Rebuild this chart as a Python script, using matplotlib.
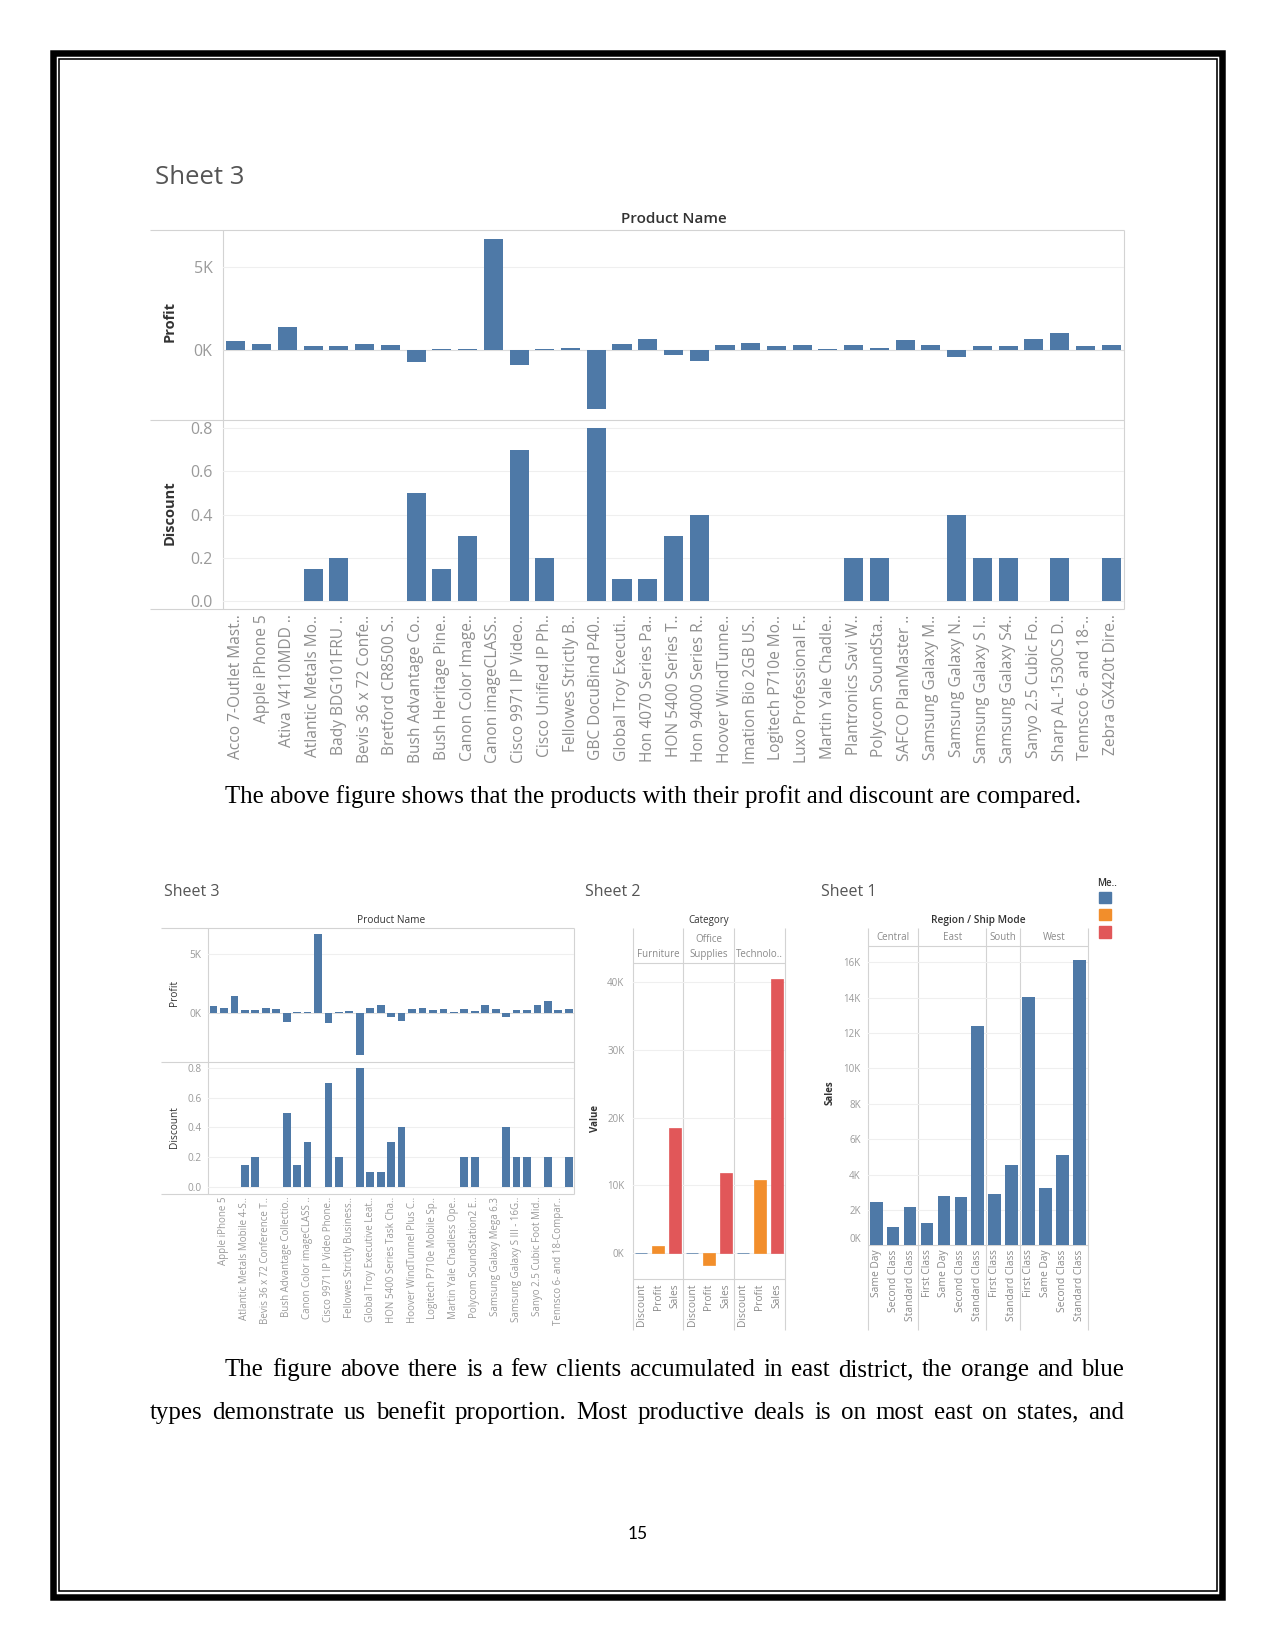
import matplotlib
matplotlib.use("Agg")
import matplotlib.pyplot as plt
from matplotlib.patches import Rectangle

W, H, DPI = 1275, 1650, 100

# ---------------- data ----------------
products = [
    "Acco 7-Outlet Mast..", "Apple iPhone 5", "Ativa V4110MDD ..", "Atlantic Metals Mo..",
    "Bady BDG101FRU ..", "Bevis 36 x 72 Confe..", "Bretford CR8500 S..", "Bush Advantage Co..",
    "Bush Heritage Pine..", "Canon Color Image..", "Canon imageCLASS..", "Cisco 9971 IP Video..",
    "Cisco Unified IP Ph..", "Fellowes Strictly B..", "GBC DocuBind P40..", "Global Troy Executi..",
    "Hon 4070 Series Pa..", "HON 5400 Series T..", "Hon 94000 Series R..", "Hoover WindTunne..",
    "Imation Bio 2GB US..", "Logitech P710e Mo..", "Luxo Professional F..", "Martin Yale Chadle..",
    "Plantronics Savi W..", "Polycom SoundSta..", "SAFCO PlanMaster ..", "Samsung Galaxy M..",
    "Samsung Galaxy N..", "Samsung Galaxy S I..", "Samsung Galaxy S4..", "Sanyo 2.5 Cubic Fo..",
    "Sharp AL-1530CS D..", "Tennsco 6- and 18-..", "Zebra GX420t Dire..",
]
profit = [560, 400, 1420, 240, 240, 400, 340, -730, 80, 80, 6700, -860, 80, 160, -3560,
          400, 660, -300, -650, 340, 460, 240, 340, 80, 340, 160, 650, 340, -380, 240,
          240, 700, 1030, 240, 340]
discount = [0, 0, 0, 0.15, 0.2, 0, 0, 0.5, 0.15, 0.3, 0, 0.7, 0.2, 0, 0.8, 0.1, 0.1, 0.3,
            0.4, 0, 0, 0, 0, 0, 0.2, 0.2, 0, 0, 0.4, 0.2, 0.2, 0, 0.2, 0, 0.2]
# labels shown on the small copy of Sheet 3 (every second product)
products_small = [
    "Apple iPhone 5", "Atlantic Metals Mobile 4-S..", "Bevis 36 x 72 Conference T..",
    "Bush Advantage Collectio..", "Canon Color imageCLASS ..", "Cisco 9971 IP Video Phone..",
    "Fellowes Strictly Business..", "Global Troy Executive Leat..", "HON 5400 Series Task Cha..",
    "Hoover WindTunnel Plus C..", "Logitech P710e Mobile Sp..", "Martin Yale Chadless Ope..",
    "Polycom SoundStation2 E..", "Samsung Galaxy Mega 6.3", "Samsung Galaxy S III - 16G..",
    "Sanyo 2.5 Cubic Foot Mid..", "Tennsco 6- and 18-Compar..",
]

categories = ["Furniture", "Office Supplies", "Technolo.."]
measures = ["Discount", "Profit", "Sales"]
cat_discount = [2.0, 1.9, 1.6]
cat_profit = [1070, -1700, 10800]
cat_sales = [18400, 11800, 40400]

regions = ["Central", "East", "South", "West"]
ship_modes = [
    ["Same Day", "Second Class", "Standard Class"],
    ["First Class", "Same Day", "Second Class", "Standard Class"],
    ["First Class", "Standard Class"],
    ["First Class", "Same Day", "Second Class", "Standard Class"],
]
region_sales = [
    [2430, 1020, 2150],
    [1260, 2770, 2740, 12400],
    [2890, 4530],
    [14040, 3230, 5090, 16130],
]

caption1 = "The above figure shows that the products with their profit and discount are compared."
para_lines = [
    "The figure above there is a few clients accumulated in east district, the orange and blue",
    "types demonstrate us benefit proportion. Most productive deals is on most east on states, and",
]
page_number = "15"

# ---------------- style ----------------
BLUE, ORANGE, RED = "#4e79a7", "#f28e2b", "#e15759"
TAB = ["Open Sans", "DejaVu Sans"]
SERIF = ["Liberation Serif", "DejaVu Serif"]
LINE = "#d3d3d3"
GRID = "#efefef"
TICK = "#9a9a9a"
DARK = "#333333"

fig = plt.figure(figsize=(W / DPI, H / DPI), dpi=DPI)
fig.patch.set_facecolor("white")
ov = fig.add_axes([0, 0, 1, 1], zorder=0)
ov.set_xlim(0, W)
ov.set_ylim(H, 0)
ov.axis("off")


def px_axes(x0, y0, x1, y1):
    ax = fig.add_axes([x0 / W, 1 - y1 / H, (x1 - x0) / W, (y1 - y0) / H], zorder=2)
    ax.patch.set_alpha(0)
    for s in ax.spines.values():
        s.set_visible(False)
    ax.set_axisbelow(True)
    return ax


def hline(y, x0, x1, c=LINE, lw=0.8):
    ov.plot([x0, x1], [y, y], color=c, lw=lw, solid_capstyle="butt")


def vline(x, y0, y1, c=LINE, lw=0.8):
    ov.plot([x, x], [y0, y1], color=c, lw=lw, solid_capstyle="butt")


def style_y(ax, ticks, labels, size, pad_px):
    ax.set_yticks(ticks)
    ax.set_yticklabels(labels, fontsize=size, color=TICK, family=TAB)
    ax.tick_params(axis="y", length=0, pad=pad_px * 0.72)
    ax.yaxis.grid(True, color=GRID, lw=0.8)


# ---------------- page border ----------------
ov.add_patch(Rectangle((53, 53), 1222 - 53, 1596.5 - 53, fill=False, ec="black", lw=6.5 * 0.72))
ov.add_patch(Rectangle((58.5, 58.5), 1216.7 - 58.5, 1590.7 - 58.5, fill=False, ec="black", lw=1.6 * 0.72))

# ---------------- top Sheet 3 ----------------
ov.text(155, 177, "Sheet 3", fontsize=18.5, color="#555555", family=TAB, va="center", ha="left")
X0, X1 = 223, 1124
ov.text((X0 + X1) / 2, 219, "Product Name", fontsize=11, color=DARK, family=TAB,
        ha="center", va="center", weight="semibold")
for y in (230, 420, 609):
    hline(y, 150, X1)
vline(X0, 230, 609)
vline(X1, 230, 609)

xs = list(range(len(products)))
axp = px_axes(X0, 230, X1, 419.5)
axp.bar(xs, profit, width=0.74, color=BLUE, zorder=3)
axp.axhline(0, color="#dcdcdc", lw=0.8, zorder=2)
axp.set_xlim(-0.5, len(products) - 0.5)
axp.set_ylim(-4172, 7255)
style_y(axp, [0, 5000], ["0K", "5K"], 11.5, 10.5)
axp.set_xticks([])
ov.text(170, 322, "Profit", rotation=90, fontsize=10.5, color=DARK, family=TAB,
        weight="bold", ha="center", va="center")

axd = px_axes(X0, 420.5, X1, 609)
axd.bar(xs, discount, width=0.74, color=BLUE, zorder=3)
axd.set_xlim(-0.5, len(products) - 0.5)
axd.set_ylim(-0.037, 0.836)
style_y(axd, [0, 0.2, 0.4, 0.6, 0.8], ["0.0", "0.2", "0.4", "0.6", "0.8"], 11.5, 10.5)
axd.set_xticks(xs)
axd.set_xticklabels(products, rotation=90, fontsize=11.2, color="#8e8e8e", family=TAB,
                    ha="center", va="top")
axd.tick_params(axis="x", length=0, pad=4)
ov.text(170, 513, "Discount", rotation=90, fontsize=10.5, color=DARK, family=TAB,
        weight="bold", ha="center", va="center")

# ---------------- captions ----------------
renderer = fig.canvas.get_renderer()


def text_width(s, fs):
    t = ov.text(0, 0, s, fontsize=fs, family=SERIF)
    w = t.get_window_extent(renderer).width
    t.remove()
    return w


fs_serif = 18 * 856 / text_width(caption1, 18)
ov.text(225, 803, caption1, fontsize=fs_serif, family=SERIF, color="black", ha="left", va="baseline")


def justify(line, x0, x1, y, fs):
    words = line.split()
    widths = [text_width(w, fs) for w in words]
    gap = (x1 - x0 - sum(widths)) / (len(words) - 1)
    x = x0
    for w, wd in zip(words, widths):
        ov.text(x, y, w, fontsize=fs, family=SERIF, color="black", ha="left", va="baseline")
        x += wd + gap


justify(para_lines[0], 225, 1124, 1376, fs_serif)
justify(para_lines[1], 150, 1124, 1419, fs_serif)
ov.text(637.5, 1539, page_number, fontsize=12.5, family=["Lato", "DejaVu Sans"], color="black",
        ha="center", va="baseline")

# ---------------- bottom-left Sheet 3 ----------------
SX0, SX1 = 208.3, 574
ov.text(164, 892, "Sheet 3", fontsize=11.5, color="#555555", family=TAB, va="center", ha="left")
ov.text((SX0 + SX1) / 2, 920.5, "Product Name", fontsize=7.3, color=DARK, family=TAB,
        ha="center", va="center")
for y in (928.3, 1061.5, 1194):
    hline(y, 161, SX1)
vline(SX0, 928.3, 1194)
vline(SX1, 928.3, 1194)

bp = px_axes(SX0, 928.3, SX1, 1061)
bp.bar(xs, profit, width=0.74, color=BLUE, zorder=3)
bp.axhline(0, color="#dcdcdc", lw=0.6, zorder=2)
bp.set_xlim(-0.5, len(products) - 0.5)
bp.set_ylim(-4085, 7203)
style_y(bp, [0, 5000], ["0K", "5K"], 7.3, 6.6)
bp.set_xticks([])
ov.text(174, 993, "Profit", rotation=90, fontsize=7.3, color=DARK, family=TAB, ha="center", va="center")

bd = px_axes(SX0, 1062, SX1, 1194)
bd.bar(xs, discount, width=0.74, color=BLUE, zorder=3)
bd.set_xlim(-0.5, len(products) - 0.5)
bd.set_ylim(-0.045, 0.838)
style_y(bd, [0, 0.2, 0.4, 0.6, 0.8], ["0.0", "0.2", "0.4", "0.6", "0.8"], 7.3, 6.6)
bd.set_xticks(xs[1::2])
bd.set_xticklabels(products_small, rotation=90, fontsize=7, color="#9a9a9a", family=TAB,
                   ha="center", va="top")
bd.tick_params(axis="x", length=0, pad=2)
ov.text(174, 1127, "Discount", rotation=90, fontsize=7.3, color=DARK, family=TAB, ha="center", va="center")

# ---------------- Sheet 2 ----------------
ov.text(585, 892, "Sheet 2", fontsize=11.5, color="#555555", family=TAB, va="center", ha="left")
cx = [632.7, 683.3, 734.3, 785.3]
ov.text((cx[0] + cx[-1]) / 2, 920.7, "Category", fontsize=7, color=DARK, family=TAB,
        ha="center", va="center")
for x in cx:
    vline(x, 928.3, 1330)
hline(962.7, cx[0], cx[-1])
hline(1279.3, cx[0], cx[-1])
for i, c in enumerate(categories):
    lab = c if len(c) <= 10 else c.replace(" ", "\n")
    ov.text((cx[i] + cx[i + 1]) / 2, 957, lab, fontsize=7, color="#8a8a8a", family=TAB,
            ha="center", va="baseline", linespacing=1.5)

a2 = px_axes(cx[0], 962.7, cx[-1], 1279.3)
colors = [BLUE, ORANGE, RED]
xpos, labels2 = [], []
for i in range(len(categories)):
    vals = [cat_discount[i], cat_profit[i], cat_sales[i]]
    for j, m in enumerate(measures):
        x = i * 3 + j
        a2.bar(x, vals[j], width=0.72, color=colors[j], ec=colors[j], lw=0.5, zorder=3)
        xpos.append(x)
        labels2.append(m)
a2.set_xlim(-0.5, 8.5)
a2.set_ylim(-3824, 42794)
style_y(a2, [0, 10000, 20000, 30000, 40000], ["0K", "10K", "20K", "30K", "40K"], 7, 8.4)
a2.set_xticks(xpos)
a2.set_xticklabels(labels2, rotation=90, fontsize=7.4, color="#8a8a8a", family=TAB, ha="center", va="top")
a2.tick_params(axis="x", length=0, pad=3)
ov.text(595.7, 1118, "Value", rotation=90, fontsize=7, color=DARK, family=TAB, weight="bold",
        ha="center", va="center")

# ---------------- Sheet 1 ----------------
ov.text(820.7, 892, "Sheet 1", fontsize=11.5, color="#555555", family=TAB, va="center", ha="left")
rx = [867.7, 918.3, 986.3, 1020.3, 1088]
ov.text((rx[0] + rx[-1]) / 2, 920.7, "Region / Ship Mode", fontsize=7.3, color=DARK, family=TAB,
        weight="semibold", ha="center", va="center")
for x in rx:
    vline(x, 928.3, 1330)
hline(945.7, rx[0], rx[-1])
hline(1245.3, rx[0], rx[-1])
for i, r in enumerate(regions):
    ov.text((rx[i] + rx[i + 1]) / 2, 937.7, r, fontsize=7, color="#8a8a8a", family=TAB,
            ha="center", va="center")

a1 = px_axes(rx[0], 945.7, rx[-1], 1245.3)
pos = 0
xpos1, labels1 = [], []
for i in range(len(regions)):
    for m, v in zip(ship_modes[i], region_sales[i]):
        a1.bar(pos, v, width=0.75, color=BLUE, zorder=3)
        xpos1.append(pos)
        labels1.append(m)
        pos += 1
a1.set_xlim(-0.5, pos - 0.5)
a1.set_ylim(0, 16940)
style_y(a1, list(range(0, 16001, 2000)), [f"{k}K" for k in range(0, 17, 2)], 7, 7)
a1.get_yticklabels()[0].set_va("bottom")
a1.set_xticks(xpos1)
a1.set_xticklabels(labels1, rotation=90, fontsize=7.4, color="#8a8a8a", family=TAB, ha="center", va="top")
a1.tick_params(axis="x", length=0, pad=3)
ov.text(830, 1093, "Sales", rotation=90, fontsize=7, color=DARK, family=TAB, weight="bold",
        ha="center", va="center")

# ---------------- legend ----------------
ov.text(1097, 883, "Me..", fontsize=7, color=DARK, family=TAB, weight="semibold", ha="left", va="center")
for k, c in enumerate(colors):
    ov.add_patch(Rectangle((1099.3, 891.7 + k * 17.2), 11.5, 11.5, color=c))

fig.savefig("out.png", dpi=DPI, facecolor="white")
